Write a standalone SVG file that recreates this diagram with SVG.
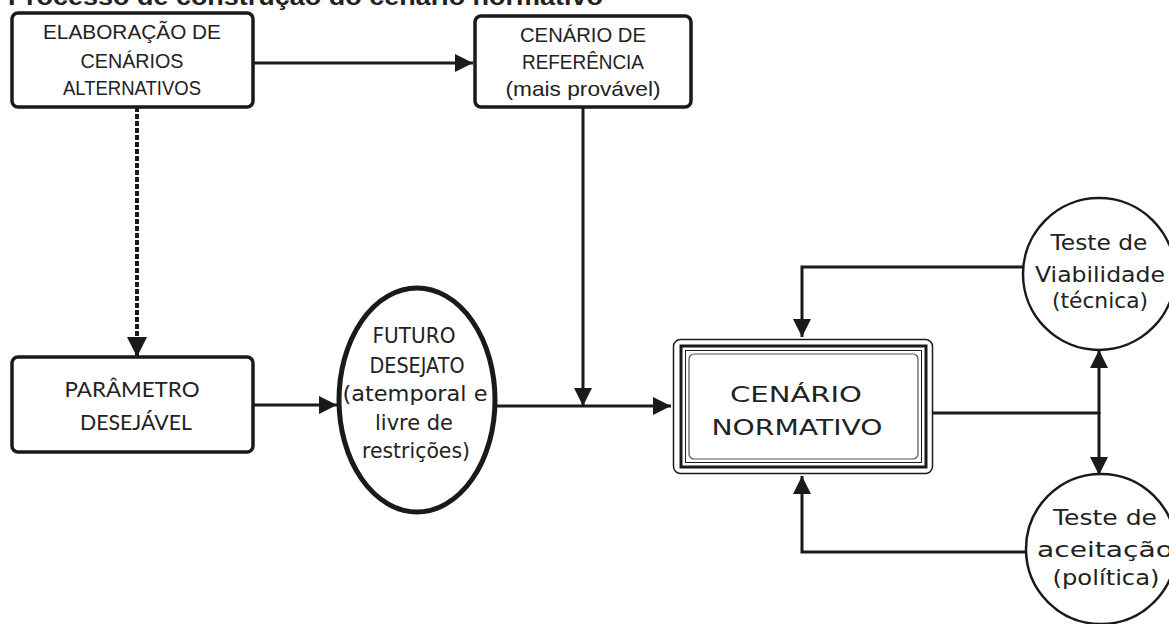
<svg xmlns="http://www.w3.org/2000/svg" width="1169" height="624" viewBox="0 0 1169 624">
<style>
.bg{fill:#fff}
.box{fill:#fff;stroke:#1a1a1a;stroke-width:3.5}
.c{font-family:"Liberation Sans",Arial,sans-serif;fill:#222;text-anchor:middle;font-size:21px}
.p{font-family:Lato,"Liberation Sans",sans-serif;fill:#222;text-anchor:middle;font-size:22px}
.g{font-family:"DejaVu Sans","Liberation Sans",sans-serif;fill:#222;text-anchor:middle;font-size:21px}
.ln{fill:none;stroke:#1a1a1a;stroke-width:3}
.dash{fill:none;stroke:#1a1a1a;stroke-width:4;stroke-dasharray:5 2}
</style>
<defs>
<marker id="ah" viewBox="0 0 18 18" refX="18" refY="9" markerWidth="18" markerHeight="18" markerUnits="userSpaceOnUse" orient="auto">
<path d="M0,0 L18,9 L0,18 z" fill="#1a1a1a" stroke="none"/>
</marker>
<marker id="ahb" viewBox="0 0 20 20" refX="20" refY="10" markerWidth="20" markerHeight="20" markerUnits="userSpaceOnUse" orient="auto">
<path d="M0,0 L20,10 L0,20 z" fill="#1a1a1a" stroke="none"/>
</marker>
</defs>
<rect class="bg" x="0" y="0" width="1169" height="624"/>
<text x="8" y="5" font-family="'Liberation Sans',Arial,sans-serif" font-weight="bold" font-size="24" fill="#222" textLength="595" lengthAdjust="spacingAndGlyphs">Processo de construção do cenário normativo</text>

<g id="connectors">
<path class="ln" d="M253,63 H473" marker-end="url(#ah)"/>
<path class="dash" d="M137,107 V357" marker-end="url(#ahb)"/>
<path class="ln" d="M583,107 V406" marker-end="url(#ah)"/>
<path class="ln" d="M253,405 H337" marker-end="url(#ah)"/>
<path class="ln" d="M497,406 H671" marker-end="url(#ah)"/>
<path class="ln" d="M933,413 H1099"/>
<path class="ln" d="M1099,414 V350" marker-end="url(#ah)"/>
<path class="ln" d="M1099,412 V475" marker-end="url(#ah)"/>
<path class="ln" d="M1023,267 H802 V337" marker-end="url(#ah)"/>
<path class="ln" d="M1026,552 H802 V476" marker-end="url(#ah)"/>
</g>

<g id="elaboracao">
<rect class="box" x="12" y="13" width="241" height="94" rx="6"/>
<text class="c" x="132" y="39" textLength="178" lengthAdjust="spacingAndGlyphs">ELABORAÇÃO DE</text>
<text class="c" x="132" y="68" textLength="103" lengthAdjust="spacingAndGlyphs">CENÁRIOS</text>
<text class="c" x="132" y="95" textLength="138" lengthAdjust="spacingAndGlyphs">ALTERNATIVOS</text>
</g>

<g id="referencia">
<rect class="box" x="475" y="16" width="216" height="91" rx="6"/>
<text class="c" x="583" y="42" textLength="126" lengthAdjust="spacingAndGlyphs">CENÁRIO DE</text>
<text class="c" x="583" y="69" textLength="122" lengthAdjust="spacingAndGlyphs">REFERÊNCIA</text>
<text class="c" x="583" y="96" textLength="155" lengthAdjust="spacingAndGlyphs">(mais provável)</text>
</g>

<g id="parametro">
<rect class="box" x="12" y="357" width="241" height="95" rx="6"/>
<text class="p" x="132" y="397" textLength="135" lengthAdjust="spacingAndGlyphs">PARÂMETRO</text>
<text class="p" x="136" y="430" textLength="112" lengthAdjust="spacingAndGlyphs">DESEJÁVEL</text>
</g>

<g id="futuro">
<ellipse cx="417" cy="400" rx="78" ry="112" fill="#fff" stroke="#1a1a1a" stroke-width="5"/>
<text class="g" x="414" y="343" textLength="83" lengthAdjust="spacingAndGlyphs">FUTURO</text>
<text class="g" x="417" y="373" textLength="95" lengthAdjust="spacingAndGlyphs">DESEJATO</text>
<text class="g" x="415" y="401" textLength="145" lengthAdjust="spacingAndGlyphs">(atemporal e</text>
<text class="g" x="414" y="430" textLength="78" lengthAdjust="spacingAndGlyphs">livre de</text>
<text class="g" x="416" y="458" textLength="108" lengthAdjust="spacingAndGlyphs">restrições)</text>
</g>

<g id="normativo">
<rect x="673.5" y="339.5" width="259" height="134" rx="7" fill="#fff" stroke="#1a1a1a" stroke-width="1.5"/>
<rect x="681" y="346" width="245" height="121" fill="none" stroke="#1a1a1a" stroke-width="3"/>
<rect x="685.5" y="350.5" width="236" height="112" fill="none" stroke="#1a1a1a" stroke-width="1"/>
<rect x="689" y="354" width="229" height="105" rx="5" fill="none" stroke="#555" stroke-width="1.2"/>
<text class="g" x="796" y="402" font-size="30" textLength="132" lengthAdjust="spacingAndGlyphs">CENÁRIO</text>
<text class="g" x="797" y="435" font-size="30" textLength="171" lengthAdjust="spacingAndGlyphs">NORMATIVO</text>
</g>

<g id="viabilidade">
<circle cx="1099" cy="274" r="76" fill="#fff" stroke="#1a1a1a" stroke-width="2.5"/>
<text class="g" x="1099" y="250" font-size="22" textLength="97" lengthAdjust="spacingAndGlyphs">Teste de</text>
<text class="g" x="1100" y="282" font-size="22" textLength="130" lengthAdjust="spacingAndGlyphs">Viabilidade</text>
<text class="g" x="1100" y="308" font-size="22" textLength="96" lengthAdjust="spacingAndGlyphs">(técnica)</text>
</g>

<g id="aceitacao">
<circle cx="1101" cy="549" r="75" fill="#fff" stroke="#1a1a1a" stroke-width="2.5"/>
<text class="g" x="1105" y="525" font-size="24" textLength="104" lengthAdjust="spacingAndGlyphs">Teste de</text>
<text class="g" x="1105" y="557" font-size="24" textLength="136" lengthAdjust="spacingAndGlyphs">aceitação</text>
<text class="g" x="1106" y="585" font-size="24" textLength="107" lengthAdjust="spacingAndGlyphs">(política)</text>
</g>
</svg>
